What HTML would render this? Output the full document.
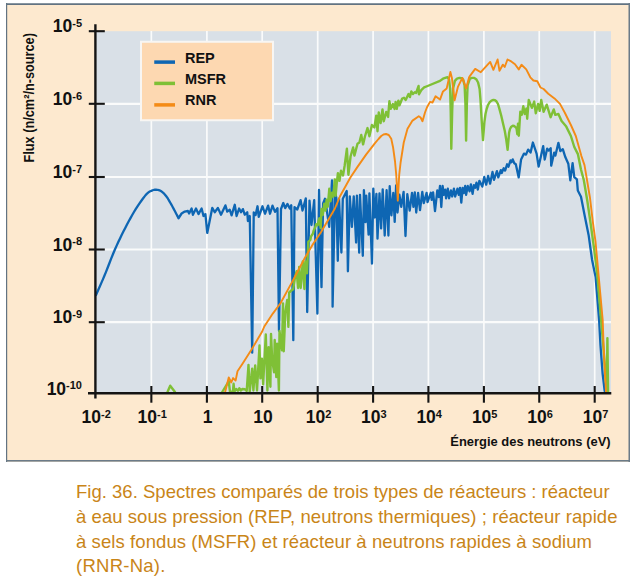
<!DOCTYPE html>
<html><head><meta charset="utf-8"><style>
html,body{margin:0;padding:0;background:#fff;width:640px;height:576px;overflow:hidden;position:relative}

</style></head><body>
<svg width="640" height="576" viewBox="0 0 640 576" style="position:absolute;left:0;top:0"><rect x="6" y="3" width="624" height="459" fill="#fde9cf"/><rect x="6" y="3" width="624" height="1" fill="#8896a1"/><rect x="6" y="4" width="624" height="1" fill="#627382"/><rect x="6" y="3" width="1.2" height="459" fill="#627382"/><rect x="628.5" y="3" width="1.5" height="459" fill="#6b7b88"/><rect x="6" y="460" width="624" height="1.6" fill="#6b7b88"/><rect x="96" y="31.2" width="515" height="362" fill="#d9e0e7"/><line x1="151.35" y1="31" x2="151.35" y2="393" stroke="#fafbfb" stroke-width="1.7"/><line x1="206.90" y1="31" x2="206.90" y2="393" stroke="#fafbfb" stroke-width="1.7"/><line x1="262.20" y1="31" x2="262.20" y2="393" stroke="#fafbfb" stroke-width="1.7"/><line x1="317.70" y1="31" x2="317.70" y2="393" stroke="#fafbfb" stroke-width="1.7"/><line x1="373.10" y1="31" x2="373.10" y2="393" stroke="#fafbfb" stroke-width="1.7"/><line x1="428.40" y1="31" x2="428.40" y2="393" stroke="#fafbfb" stroke-width="1.7"/><line x1="483.90" y1="31" x2="483.90" y2="393" stroke="#fafbfb" stroke-width="1.7"/><line x1="539.25" y1="31" x2="539.25" y2="393" stroke="#fafbfb" stroke-width="1.7"/><line x1="594.70" y1="31" x2="594.70" y2="393" stroke="#fafbfb" stroke-width="1.7"/><line x1="96" y1="103.80" x2="611" y2="103.80" stroke="#fafbfb" stroke-width="2.2"/><line x1="96" y1="177.00" x2="611" y2="177.00" stroke="#fafbfb" stroke-width="2.2"/><line x1="96" y1="249.50" x2="611" y2="249.50" stroke="#fafbfb" stroke-width="2.2"/><line x1="96" y1="322.20" x2="611" y2="322.20" stroke="#fafbfb" stroke-width="2.2"/><rect x="141" y="41.75" width="132" height="78.5" fill="#fdd8b1" stroke="#f8f6f3" stroke-width="2"/><line x1="154.25" y1="62.1" x2="175" y2="62.1" stroke="#0e66b3" stroke-width="3.5"/><line x1="154.25" y1="83.4" x2="175" y2="83.4" stroke="#7fc036" stroke-width="3.5"/><line x1="154.25" y1="104.9" x2="175" y2="104.9" stroke="#f48b16" stroke-width="3.5"/><g font-family="Liberation Sans, sans-serif" font-weight="bold" font-size="14.5" fill="#111"><text transform="translate(185,62.6) scale(1,1.07)">REP</text><text transform="translate(185,84.2) scale(1,1.07)">MSFR</text><text transform="translate(185,105) scale(1,1.07)">RNR</text></g><g fill="none" stroke-linejoin="round" stroke-linecap="round"><polyline points="167.50,392.00 170.20,385.70 175.00,392.00" stroke="#7fc036" stroke-width="2.4"/><polyline points="96.00,295.00 96.89,292.99 98.10,290.27 99.55,287.02 101.14,283.41 102.79,279.62 104.40,275.80 106.02,271.81 107.72,267.49 109.47,262.97 111.26,258.41 113.04,253.97 114.80,249.80 116.54,245.88 118.28,242.08 120.02,238.39 121.76,234.81 123.51,231.32 125.25,227.90 126.99,224.55 128.74,221.28 130.48,218.09 132.22,215.01 133.96,212.04 135.70,209.20 137.49,206.41 139.34,203.64 141.19,200.98 142.98,198.53 144.63,196.37 146.10,194.60 147.35,193.28 148.43,192.36 149.38,191.74 150.24,191.31 151.07,190.96 151.90,190.60 152.70,190.25 153.43,190.00 154.12,189.83 154.81,189.74 155.50,189.72 156.25,189.75 157.05,189.82 157.87,189.95 158.71,190.13 159.56,190.40 160.41,190.77 161.25,191.25 162.08,191.84 162.92,192.54 163.75,193.33 164.58,194.22 165.42,195.19 166.25,196.25 167.09,197.43 167.94,198.74 168.79,200.13 169.63,201.57 170.45,203.01 171.25,204.40 172.03,205.78 172.80,207.19 173.56,208.60 174.28,209.98 174.97,211.29 175.60,212.50 176.20,213.66 176.78,214.80 177.32,215.88 177.80,216.85 178.20,217.65 178.50,218.25 181.60,213.50 184.75,211.60 187.90,211.00 189.10,213.50 191.60,208.50 192.90,214.75 196.00,208.50 198.50,214.10 201.60,208.50 203.50,216.00 205.40,214.10 207.25,232.90 212.25,207.90 214.75,212.25 217.90,207.90 221.00,214.75 225.40,205.40 227.25,211.60 229.75,209.75 231.60,215.40 234.75,204.75 236.60,216.00 239.10,208.50 241.00,212.25 242.90,209.10 244.75,214.75 247.25,212.25 247.90,221.00 249.75,216.00 252.20,352.70 253.75,212.50 255.60,215.00 257.50,206.25 258.75,216.90 262.50,206.25 265.00,213.75 268.10,205.60 270.00,213.75 272.50,205.60 275.00,211.90 277.50,208.10 279.00,330.80 281.00,209.00 283.30,203.00 285.20,208.10 287.50,203.90 289.80,208.60 291.25,205.30 293.30,340.20 294.50,207.20 297.30,209.50 300.60,200.20 302.50,210.50 305.80,198.30 307.20,312.00 309.50,200.60 311.50,225.00 314.20,200.20 317.40,313.60 319.00,190.00 321.50,287.20 323.10,203.40 325.00,198.75 326.90,211.00 329.20,226.90 332.00,180.50 332.60,306.70 335.00,191.25 336.25,197.80 337.80,260.80 339.00,198.75 341.40,252.50 342.80,198.75 346.70,191.00 347.90,271.25 349.80,196.40 351.90,226.90 353.75,196.40 356.10,242.50 356.90,195.60 359.20,252.70 360.00,194.80 362.80,255.80 363.90,190.20 365.50,222.20 366.25,195.60 368.60,234.70 369.40,193.30 372.00,263.60 373.30,188.60 374.80,217.50 376.40,194.00 377.50,238.60 379.50,193.30 381.10,228.40 382.70,189.40 384.70,235.50 386.60,190.20 388.40,235.50 389.70,186.25 391.40,215.30 393.30,192.80 394.70,221.90 396.10,185.30 397.50,212.50 399.40,194.70 401.25,206.90 403.60,191.90 405.50,236.00 407.30,194.20 409.70,210.60 412.00,192.80 413.40,206.90 414.80,192.30 416.25,212.50 418.10,192.80 420.00,210.10 422.30,191.90 423.75,203.10 426.60,192.80 427.50,202.20 430.80,192.80 431.70,199.80 433.10,192.30 435.00,211.10 437.30,190.50 438.75,197.00 440.00,186.00 441.30,207.00 442.60,186.00 443.90,194.80 445.20,189.60 446.10,198.30 447.80,188.70 449.10,198.30 450.90,190.40 452.20,196.50 453.90,188.70 455.20,196.50 457.40,188.70 458.70,194.80 460.00,187.80 461.30,202.60 462.60,187.80 463.90,193.00 465.20,186.00 466.10,194.80 467.80,186.00 469.60,191.30 470.90,184.30 472.60,193.90 473.90,185.20 475.20,187.80 476.50,182.60 477.80,189.60 479.40,180.80 482.30,186.60 484.30,176.90 486.20,184.70 488.10,175.90 490.10,183.70 492.50,172.00 494.00,179.80 496.90,171.10 498.30,177.40 500.80,170.10 501.70,173.00 503.70,168.20 505.10,170.60 507.10,164.30 508.50,166.70 510.50,160.40 511.40,162.30 512.70,159.40 514.30,163.30 515.80,164.30 518.70,177.40 521.10,159.40 524.00,153.60 526.00,154.60 528.10,149.60 530.60,152.60 532.90,142.50 536.60,153.60 538.60,166.70 543.20,146.10 544.70,159.60 547.20,148.60 548.70,150.60 550.70,148.10 551.20,165.70 554.20,152.60 555.40,155.60 558.40,142.80 560.30,151.10 562.80,149.10 565.30,157.10 568.30,163.70 570.30,180.30 572.60,163.20 574.30,177.20 576.90,179.30 577.80,190.40 581.00,196.70 584.50,214.70 588.70,235.60 592.10,260.00 595.60,276.90 599.10,320.00 600.50,345.80 602.60,373.60 604.70,391.00" stroke="#0e66b3" stroke-width="2.3"/><polyline points="221.90,392.50 228.75,381.25 230.00,391.90 232.90,391.50 233.60,383.75 234.40,391.50 236.25,389.00 237.80,390.80 239.30,388.30 240.80,390.50 242.50,389.00 244.90,389.30 246.70,391.00 248.50,364.90 249.70,391.70 252.20,368.60 253.40,390.50 255.20,365.50 257.00,390.50 259.50,345.50 260.40,378.30 261.90,358.80 263.10,384.40 265.80,334.50 267.40,390.50 268.60,347.30 270.40,386.80 271.00,333.90 272.20,360.00 274.10,372.20 274.70,340.00 276.30,377.10 277.10,343.60 278.90,390.50 279.50,330.90 282.00,350.30 283.00,303.40 283.75,351.25 285.30,312.80 287.20,300.00 288.40,326.90 289.20,292.50 291.90,290.00 293.10,289.40 295.00,277.50 296.60,271.25 298.10,288.00 299.20,267.00 300.70,288.00 302.80,261.40 304.40,289.00 305.40,261.40 307.00,273.30 307.80,254.40 308.30,241.90 310.40,239.80 310.90,236.70 313.00,233.50 313.50,231.00 315.60,226.25 316.10,224.20 317.70,225.20 318.75,220.00 319.40,218.30 320.70,228.00 321.50,209.00 322.70,215.00 324.25,203.60 325.40,210.60 326.60,199.70 327.75,206.70 329.30,188.75 330.50,201.25 332.00,192.70 333.20,196.60 334.80,179.40 335.60,195.80 336.75,183.30 337.90,173.10 339.50,180.90 341.00,170.80 343.00,175.50 344.60,166.00 346.90,148.75 348.40,174.80 349.40,166.25 350.60,156.25 353.10,147.50 354.40,155.60 357.50,143.75 359.40,142.50 361.25,135.00 363.10,144.40 365.00,136.25 367.50,128.10 369.40,136.25 371.90,125.00 374.40,127.50 376.25,115.60 377.50,131.25 378.75,112.50 380.60,123.10 382.50,109.40 383.75,121.25 386.25,111.90 388.10,116.90 389.40,101.25 390.80,108.90 392.90,104.00 394.60,108.90 395.60,102.00 396.70,108.90 398.40,100.60 399.50,105.40 402.20,98.50 404.00,97.80 405.70,99.90 408.50,94.00 409.90,97.10 411.30,91.50 413.00,94.00 414.70,92.20 416.10,92.90 418.60,86.00 418.90,94.30 421.30,90.10 424.10,87.40 427.60,86.00 430.00,85.00 440.00,80.90 443.00,78.70 445.20,77.90 447.50,77.20 449.00,79.40 450.10,88.40 450.70,110.80 451.30,148.80 452.20,110.80 453.10,88.40 454.90,80.90 457.00,78.60 459.40,77.90 461.50,78.30 463.10,79.40 464.60,85.40 465.40,103.30 466.10,140.60 466.90,103.30 467.60,85.40 469.90,78.70 472.00,77.90 474.30,77.90 476.20,79.20 478.10,82.50 479.60,89.00 480.50,100.00 481.50,117.80 483.00,140.10 484.40,122.20 485.50,114.00 486.70,108.80 488.00,105.00 489.70,102.10 491.50,100.60 493.40,99.90 495.00,100.20 496.40,101.30 498.00,104.00 499.40,108.80 501.20,115.50 503.10,123.70 504.80,131.00 506.10,138.70 507.60,149.90 509.10,132.70 510.00,129.00 511.30,126.70 512.80,125.80 514.30,126.00 516.50,128.20 517.30,134.20 518.00,123.70 518.80,135.70 520.30,111.80 521.80,114.80 523.30,106.25 524.80,114.00 526.40,108.60 527.20,118.75 528.75,100.00 531.90,107.80 534.20,101.60 535.80,113.30 538.10,103.90 539.70,110.90 541.25,100.00 543.60,111.70 546.70,104.70 550.60,117.20 553.75,109.40 555.30,114.80 558.40,114.00 561.60,121.10 566.25,126.60 570.90,136.00 574.30,147.00 577.90,154.10 580.90,169.20 583.80,180.00 587.30,200.80 590.75,224.40 594.20,249.40 597.50,276.90 601.10,320.00 603.30,345.80 605.40,373.60 606.75,391.50 607.40,338.10 608.10,391.50" stroke="#7fc036" stroke-width="2.4"/><polyline points="225.00,392.50 228.75,377.50 231.25,382.50 233.10,378.10 235.60,380.60 237.50,371.25 242.50,363.75 251.25,350.00 261.90,332.10 264.30,326.50 272.80,313.60 280.50,303.20 292.30,281.60 295.00,276.50 304.80,258.00 312.90,244.20 321.25,231.70 334.80,208.75 340.00,196.25 350.40,177.50 357.50,166.90 366.25,154.40 375.00,143.10 378.50,139.00 381.25,136.00 383.50,134.50 386.00,134.00 388.75,135.00 391.25,138.75 393.10,147.50 395.00,161.25 396.25,175.00 397.80,200.60 399.20,175.00 400.60,162.50 403.75,142.50 407.50,128.75 412.50,120.60 418.75,116.25 420.60,117.50 422.50,121.25 425.00,112.50 426.90,107.50 430.00,101.90 432.50,102.50 435.60,96.25 440.00,99.60 443.00,91.40 446.70,88.40 450.40,72.00 451.90,77.90 454.60,100.30 457.90,86.90 462.40,77.90 466.10,88.40 469.10,77.20 470.00,75.90 475.20,68.90 480.80,72.20 490.20,61.90 493.40,69.80 497.60,59.50 499.50,70.80 502.80,64.70 504.70,67.00 507.50,59.50 511.25,61.40 515.00,64.20 518.75,69.40 521.50,64.70 526.25,69.40 530.30,77.30 533.40,80.50 537.30,81.25 540.50,87.50 543.60,89.00 548.30,93.75 554.50,98.40 560.00,103.90 564.70,112.50 570.90,125.00 575.80,136.00 581.40,156.10 584.50,165.10 587.00,180.00 590.00,198.00 592.80,221.70 595.60,242.50 598.75,276.90 602.70,320.00 603.60,345.80 605.00,373.60 606.00,391.50" stroke="#f48b16" stroke-width="1.9"/></g><line x1="95.4" y1="24.2" x2="95.4" y2="398.5" stroke="#141414" stroke-width="2.4"/><line x1="88" y1="393.25" x2="611.3" y2="393.25" stroke="#141414" stroke-width="2.3"/><line x1="88.8" y1="31.20" x2="104.8" y2="31.20" stroke="#141414" stroke-width="2.1"/><line x1="88.8" y1="103.80" x2="104.8" y2="103.80" stroke="#141414" stroke-width="2.1"/><line x1="88.8" y1="177.00" x2="104.8" y2="177.00" stroke="#141414" stroke-width="2.1"/><line x1="88.8" y1="249.50" x2="104.8" y2="249.50" stroke="#141414" stroke-width="2.1"/><line x1="88.8" y1="322.20" x2="104.8" y2="322.20" stroke="#141414" stroke-width="2.1"/><line x1="151.35" y1="386" x2="151.35" y2="402.7" stroke="#141414" stroke-width="2.1"/><line x1="206.90" y1="386" x2="206.90" y2="402.7" stroke="#141414" stroke-width="2.1"/><line x1="262.20" y1="386" x2="262.20" y2="402.7" stroke="#141414" stroke-width="2.1"/><line x1="317.70" y1="386" x2="317.70" y2="402.7" stroke="#141414" stroke-width="2.1"/><line x1="373.10" y1="386" x2="373.10" y2="402.7" stroke="#141414" stroke-width="2.1"/><line x1="428.40" y1="386" x2="428.40" y2="402.7" stroke="#141414" stroke-width="2.1"/><line x1="483.90" y1="386" x2="483.90" y2="402.7" stroke="#141414" stroke-width="2.1"/><line x1="539.25" y1="386" x2="539.25" y2="402.7" stroke="#141414" stroke-width="2.1"/><line x1="594.70" y1="386" x2="594.70" y2="402.7" stroke="#141414" stroke-width="2.1"/><g font-family="Liberation Sans, sans-serif" font-weight="bold" fill="#111"><text x="82" y="32.40" text-anchor="end"><tspan font-size="17.5">10</tspan><tspan font-size="11" dy="-5.3">-5</tspan></text><text x="82" y="105.00" text-anchor="end"><tspan font-size="17.5">10</tspan><tspan font-size="11" dy="-5.3">-6</tspan></text><text x="82" y="178.20" text-anchor="end"><tspan font-size="17.5">10</tspan><tspan font-size="11" dy="-5.3">-7</tspan></text><text x="82" y="250.70" text-anchor="end"><tspan font-size="17.5">10</tspan><tspan font-size="11" dy="-5.3">-8</tspan></text><text x="82" y="323.40" text-anchor="end"><tspan font-size="17.5">10</tspan><tspan font-size="11" dy="-5.3">-9</tspan></text><text x="82" y="394.50" text-anchor="end"><tspan font-size="17.5">10</tspan><tspan font-size="11" dy="-5.3">-10</tspan></text><text x="96.20" y="422.8" text-anchor="middle"><tspan font-size="17.5">10</tspan><tspan font-size="11" dy="-5">-2</tspan></text><text x="152.15" y="422.8" text-anchor="middle"><tspan font-size="17.5">10</tspan><tspan font-size="11" dy="-5">-1</tspan></text><text x="207.70" y="422.8" text-anchor="middle" font-size="17.5">1</text><text x="263.00" y="422.8" text-anchor="middle" font-size="17.5">10</text><text x="318.50" y="422.8" text-anchor="middle"><tspan font-size="17.5">10</tspan><tspan font-size="11" dy="-5">2</tspan></text><text x="373.90" y="422.8" text-anchor="middle"><tspan font-size="17.5">10</tspan><tspan font-size="11" dy="-5">3</tspan></text><text x="429.20" y="422.8" text-anchor="middle"><tspan font-size="17.5">10</tspan><tspan font-size="11" dy="-5">4</tspan></text><text x="484.70" y="422.8" text-anchor="middle"><tspan font-size="17.5">10</tspan><tspan font-size="11" dy="-5">5</tspan></text><text x="540.05" y="422.8" text-anchor="middle"><tspan font-size="17.5">10</tspan><tspan font-size="11" dy="-5">6</tspan></text><text x="595.50" y="422.8" text-anchor="middle"><tspan font-size="17.5">10</tspan><tspan font-size="11" dy="-5">7</tspan></text><text x="610.6" y="445.6" text-anchor="end" font-size="12.95">Énergie des neutrons (eV)</text><text transform="translate(34.2,162.5) rotate(-90) scale(0.91,1)" font-size="14">Flux (n/cm²/n-source)</text></g><text x="76" y="497.7" font-family="Liberation Sans, sans-serif" font-size="18.5" fill="#c98518" textLength="533.6" lengthAdjust="spacing">Fig. 36. Spectres comparés de trois types de réacteurs : réacteur</text><text x="76" y="523.4" font-family="Liberation Sans, sans-serif" font-size="18.5" fill="#c98518" textLength="541.5" lengthAdjust="spacing">à eau sous pression (REP, neutrons thermiques) ; réacteur rapide</text><text x="76" y="547.8" font-family="Liberation Sans, sans-serif" font-size="18.5" fill="#c98518" textLength="516.0" lengthAdjust="spacing">à sels fondus (MSFR) et réacteur à neutrons rapides à sodium</text><text x="76" y="571.8" font-family="Liberation Sans, sans-serif" font-size="18.5" fill="#c98518" textLength="89.4" lengthAdjust="spacing">(RNR-Na).</text></svg>

</body></html>
